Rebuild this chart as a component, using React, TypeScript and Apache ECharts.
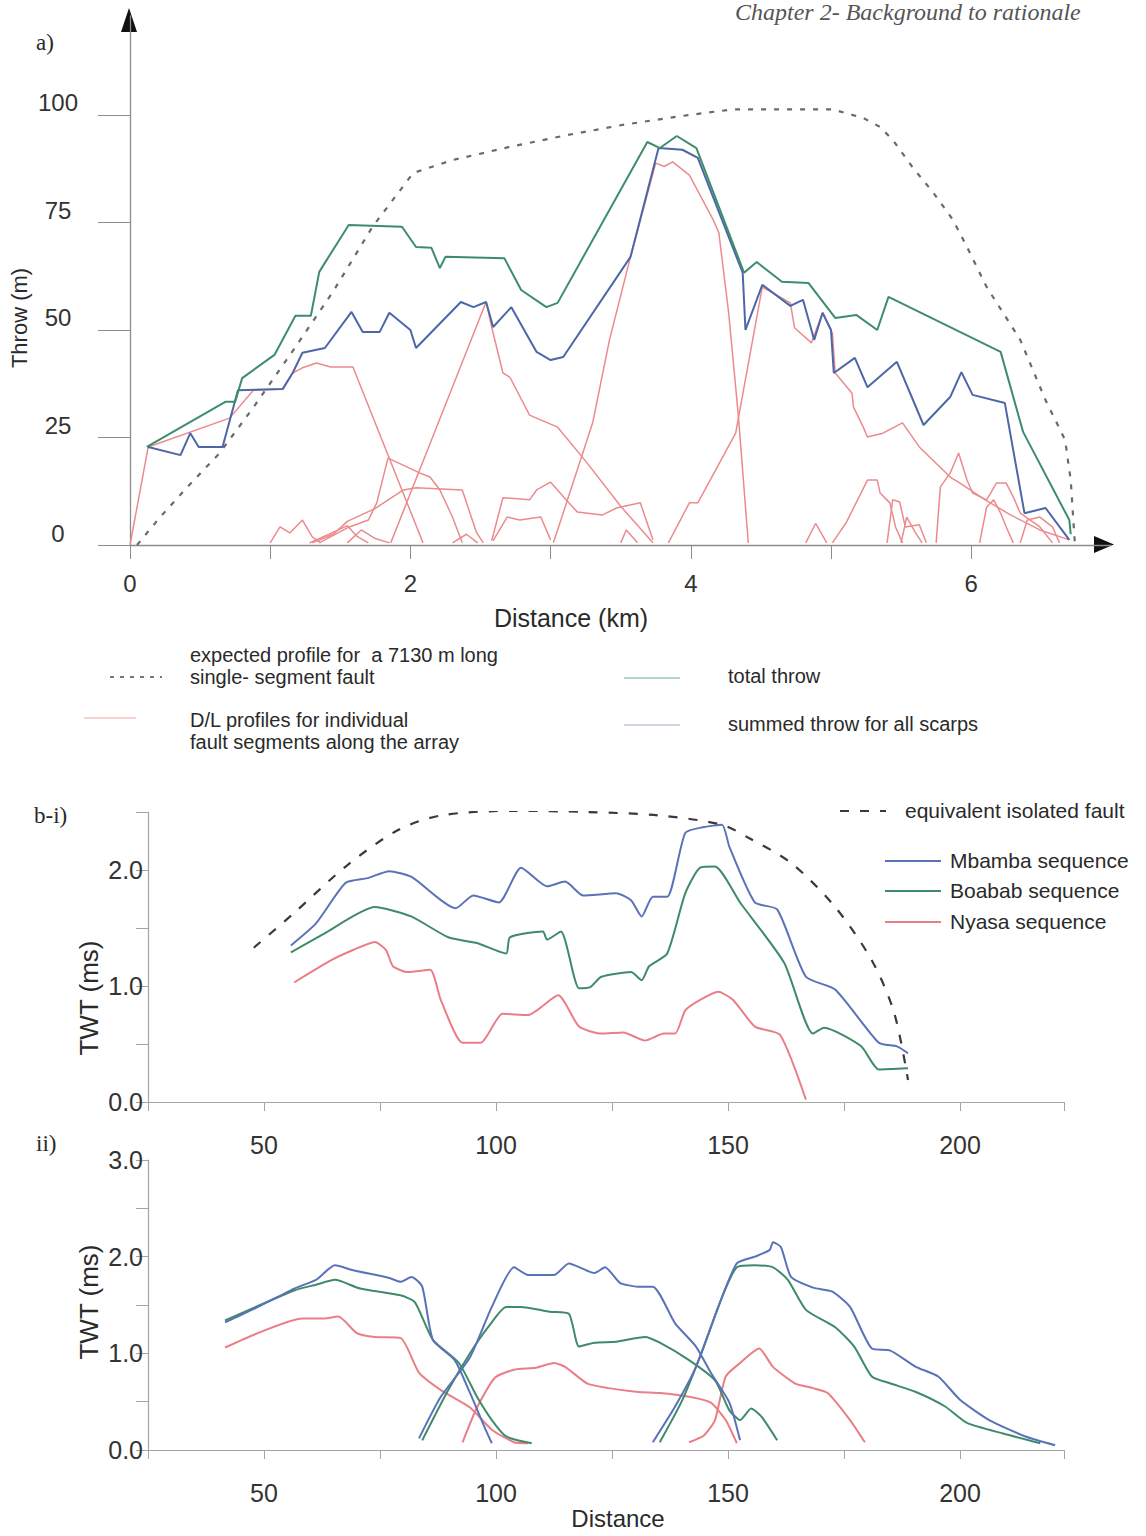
import React, { useEffect, useRef } from "react";
import * as echarts from "echarts";

// ---------- Panel a) : throw (m) vs distance (km) ----------
const aXTicks = [0, 1, 2, 3, 4, 5, 6];
const aXLabels = [0, 2, 4, 6];
const aYTicks = [0, 25, 50, 75, 100];

const expectedProfile = [[0.05,0],[0.21,6.3],[0.41,13.5],[0.64,21.4],[0.88,32],[1.19,46.5],[1.45,59],[1.73,74],[2.02,86.5],[2.3,89.5],[2.7,92.5],[3.1,95.2],[3.5,97.6],[3.9,99.6],[4.3,101.3],[5.01,101.3],[5.23,99.3],[5.35,97.2],[5.44,94.2],[5.58,87.9],[5.73,81.9],[5.87,75.6],[5.97,69.3],[6.11,60],[6.35,47.7],[6.53,33.7],[6.67,24.4],[6.71,15],[6.74,0]];

const totalThrow = [[0.12,22.8],[0.68,33.3],[0.75,33.3],[0.80,38.8],[1.03,44.2],[1.18,53.3],[1.29,53.3],[1.35,63.5],[1.39,65.6],[1.56,74.4],[1.94,74.0],[2.04,69.3],[2.15,69.1],[2.21,64.4],[2.25,67.0],[2.67,66.7],[2.79,59.3],[2.97,55.3],[3.05,56.3],[3.69,93.7],[3.78,92.3],[3.90,95.1],[4.04,92.3],[4.38,63.3],[4.47,65.8],[4.65,61.2],[4.84,60.9],[5.03,52.8],[5.18,53.5],[5.33,50.0],[5.41,57.7],[6.21,44.9],[6.37,26.3],[6.70,5.8],[6.71,2.5]];

const summedThrow = [[0.13,22.8],[0.36,20.9],[0.43,26.0],[0.49,22.8],[0.66,22.8],[0.77,36.0],[1.09,36.3],[1.16,40.0],[1.23,44.7],[1.39,45.8],[1.58,54.2],[1.66,49.5],[1.78,49.5],[1.85,54.0],[2.00,50.0],[2.04,45.8],[2.36,56.5],[2.45,55.3],[2.54,56.5],[2.59,50.7],[2.72,55.3],[2.90,44.9],[3.00,43.0],[3.09,43.7],[3.57,67.0],[3.77,92.3],[3.94,91.9],[4.05,90.0],[4.37,63.3],[4.39,50.0],[4.51,60.5],[4.71,55.6],[4.80,57.0],[4.88,47.7],[4.94,54.0],[5.00,50.0],[5.02,40.0],[5.17,43.5],[5.26,36.7],[5.47,42.6],[5.66,27.9],[5.85,34.4],[5.93,40.2],[6.01,34.9],[6.24,33.0],[6.38,7.4],[6.53,8.6],[6.70,1.2]];

const dl01 = [[0,0],[0.13,22.8],[0.71,29.5],[0.88,36],[1.09,36.3],[1.16,40],[1.23,41.2],[1.33,42.3],[1.43,41.4],[1.59,41.4],[2.09,0.5]];
const dl02 = [[1.86,0.5],[2.54,56.5],[2.59,49.3],[2.66,40],[2.71,39],[2.85,30.2],[3.05,27.4],[3.25,19.5],[3.5,9],[3.73,0.5]];
const dl03 = [[3.02,0.5],[3.30,28.4],[3.42,47.7],[3.57,67],[3.75,88.8],[3.81,88],[3.87,89.1],[3.99,86],[4.16,75.6],[4.20,72.6],[4.27,54],[4.34,29.8],[4.41,0.5]];
const dl04 = [[3.84,0.5],[3.99,9.8],[4.05,9.8],[4.32,26],[4.51,60],[4.71,56.3],[4.74,50.5],[4.86,47],[4.94,54],[5.01,49.3],[5.03,40],[5.15,35.3],[5.16,32.1],[5.23,27.4],[5.26,25.1],[5.37,26],[5.51,28.4],[5.63,22.8],[5.85,15.8],[5.92,14.4],[6.10,10.5],[6.28,7],[6.49,3.5],[6.70,1.2]];
const dl05 = [[1.35,0.5],[1.55,4],[1.70,5.8],[1.76,9.8],[1.84,20.2],[2.07,16.7],[2.14,15.8],[2.21,12.8],[2.30,6.5],[2.37,0.5]];
const dl06 = [[1.30,0.5],[1.45,2.5],[1.55,5.5],[1.75,8.5],[1.95,12.8],[2.04,13.3],[2.37,12.8],[2.47,3],[2.52,0.5]];
const dl07 = [[1.0,0.5],[1.07,4.2],[1.14,2.8],[1.23,5.8],[1.30,1.9],[1.36,0.5]];
const dl08 = [[2.58,1],[2.66,11],[2.85,10.5],[2.90,12.8],[3.0,14.6],[3.13,9.8],[3.19,7.7],[3.37,7],[3.47,8.6],[3.64,9.8],[3.73,1.2]];
const dl09 = [[2.59,1],[2.69,6.5],[2.78,5.8],[2.93,6.5],[3.0,1.2]];
const dl10 = [[3.5,0.5],[3.54,3.5],[3.62,0.5]];
const dl11 = [[4.82,0.5],[4.89,5],[4.97,0.5]];
const dl12 = [[5.01,0.5],[5.11,5.3],[5.26,15.1],[5.33,15.1],[5.35,12.1],[5.42,9.8],[5.46,4.2],[5.51,0.5]];
const dl13 = [[5.40,0.5],[5.44,10.5],[5.49,10],[5.53,4.2],[5.63,4.7],[5.68,0.5]];
const dl14 = [[5.75,0.5],[5.78,13.5],[5.85,16.7],[5.91,21.4],[5.97,15.1],[6.01,12.1],[6.11,10.5],[6.18,14.4],[6.25,14.4],[6.30,11.2],[6.35,7.4],[6.49,4.2],[6.58,0.5]];
const dl15 = [[6.06,0.5],[6.11,8.8],[6.16,10.5],[6.21,7.4],[6.25,4.2],[6.30,0.5]];
const dl16 = [[6.35,0.5],[6.40,5.8],[6.49,6.5],[6.58,4.2],[6.63,0.5]];
const dl17 = [[2.30,0.5],[2.40,2.5],[2.48,0.5]];
const dl18 = [[1.28,0.5],[1.42,2.5],[1.55,4.5],[1.62,2],[1.70,0.5]];
const dl19 = [[1.55,0.5],[1.65,3.5],[1.75,1.5],[1.85,0.5]];
const dl20 = [[5.50,0.5],[5.54,6.5],[5.60,3],[5.65,0.5]];
const dlProfiles = [dl01, dl02, dl03, dl04, dl05, dl06, dl07, dl08, dl09, dl10, dl11, dl12, dl13, dl14, dl15, dl16, dl17, dl18, dl19, dl20];

// ---------- Panel b-i ----------
const bXLabels = [50, 100, 150, 200];
const isolatedFault = [[47.8,1.33],[56.5,1.63],[67.6,2.03],[78.7,2.34],[88.1,2.47],[103.9,2.51],[119.6,2.50],[135.3,2.47],[148.7,2.39],[154.3,2.28],[163.6,2.06],[173.1,1.68],[181.0,1.22],[185.8,0.77],[188.8,0.19]];
const mbambaI = [[55.8,1.35],[61.2,1.54],[67.6,1.89],[72.3,1.93],[77.0,1.99],[81.8,1.94],[91.3,1.67],[95.1,1.78],[100.6,1.72],[105.4,2.02],[111.0,1.86],[114.9,1.90],[118.8,1.78],[125.9,1.80],[129.1,1.74],[131.4,1.60],[133.8,1.77],[136.9,1.77],[140.8,2.32],[144.8,2.37],[148.7,2.39],[150.3,2.20],[155.8,1.72],[160.6,1.66],[166.8,1.08],[173.1,0.97],[182.5,0.51],[186.4,0.48],[188.8,0.42]];
const boababI = [[55.8,1.29],[62.9,1.45],[73.9,1.68],[81.7,1.60],[89.7,1.42],[95.9,1.37],[102.2,1.28],[103.0,1.42],[110.1,1.47],[111.0,1.40],[114.0,1.47],[117.9,0.98],[120.3,0.99],[122.7,1.08],[129.1,1.12],[131.4,1.05],[133.0,1.17],[136.9,1.28],[140.8,1.80],[144.0,2.02],[147.2,2.03],[152.6,1.72],[162.1,1.20],[168.3,0.59],[170.7,0.64],[178.7,0.48],[182.5,0.28],[188.8,0.29]];
const nyasaI = [[56.5,1.03],[64.4,1.22],[69.2,1.31],[73.9,1.38],[76.3,1.31],[77.8,1.17],[81.0,1.12],[85.8,1.14],[88.1,0.88],[92.8,0.51],[96.7,0.51],[101.4,0.76],[106.9,0.75],[113.4,0.92],[117.9,0.65],[122.7,0.59],[127.4,0.60],[132.1,0.53],[136.2,0.59],[138.6,0.59],[140.8,0.79],[144.0,0.88],[147.9,0.95],[151.1,0.88],[155.8,0.65],[161.2,0.58],[166.8,0.02]];

// ---------- Panel b-ii ----------
const mbamba1 = [[41.6,1.32],[48.7,1.48],[56.5,1.67],[61.2,1.76],[65.3,1.91],[69.2,1.86],[77.0,1.78],[79.4,1.74],[81.8,1.79],[84.1,1.69],[86.4,1.14],[91.1,0.93],[94.4,0.59],[97.5,0.24],[99.1,0.07]];
const boabab1 = [[41.6,1.34],[56.5,1.65],[61.2,1.71],[65.3,1.76],[70.7,1.67],[79.4,1.60],[82.5,1.53],[86.4,1.14],[92.0,0.90],[95.9,0.55],[99.1,0.31],[102.2,0.14],[107.7,0.07]];
const nyasa1 = [[41.6,1.06],[48.7,1.21],[58.2,1.36],[62.9,1.36],[66.0,1.38],[70.0,1.21],[73.9,1.17],[79.4,1.16],[83.4,0.80],[88.1,0.62],[94.4,0.44],[99.1,0.21],[103.9,0.08],[106.9,0.07]];
const mbamba2 = [[83.4,0.12],[88.1,0.55],[94.4,0.96],[99.1,1.48],[103.9,1.89],[106.9,1.81],[112.5,1.81],[115.7,1.93],[121.2,1.83],[123.5,1.89],[126.7,1.73],[130.6,1.69],[133.8,1.69],[138.6,1.31],[143.1,1.07],[146.3,0.80],[150.3,0.49],[152.6,0.10]];
const boabab2 = [[84.1,0.10],[89.7,0.62],[94.4,1.00],[98.3,1.27],[102.2,1.48],[105.4,1.48],[111.6,1.43],[115.7,1.41],[117.9,1.07],[121.2,1.11],[125.9,1.12],[132.1,1.17],[135.3,1.11],[141.6,0.93],[147.2,0.72],[150.3,0.41],[152.6,0.31],[155.0,0.43],[157.3,0.34],[160.6,0.10]];
const nyasa2 = [[92.8,0.08],[95.9,0.44],[99.8,0.75],[103.9,0.83],[108.6,0.85],[112.5,0.90],[114.9,0.86],[119.6,0.69],[124.3,0.64],[130.6,0.60],[135.3,0.59],[141.6,0.55],[146.3,0.49],[149.5,0.31],[151.9,0.07]];
const mbamba3 = [[133.8,0.08],[138.6,0.45],[143.1,0.86],[147.9,1.48],[151.9,1.93],[155.8,2.00],[159.0,2.07],[159.7,2.15],[161.4,2.10],[163.6,1.79],[168.3,1.68],[172.4,1.64],[176.3,1.48],[181.0,1.05],[184.9,1.03],[190.5,0.86],[195.3,0.76],[200.0,0.52],[206.3,0.31],[214.1,0.14],[220.5,0.05]];
const boabab3 = [[135.3,0.08],[140.1,0.51],[144.8,1.07],[148.7,1.58],[151.9,1.89],[155.8,1.91],[159.7,1.89],[162.9,1.76],[166.8,1.45],[173.1,1.27],[177.2,1.07],[181.0,0.76],[184.9,0.69],[190.5,0.60],[196.8,0.45],[201.5,0.28],[209.3,0.17],[217.3,0.07]];
const nyasa3 = [[141.6,0.08],[144.8,0.15],[147.2,0.31],[149.5,0.76],[152.6,0.90],[156.7,1.05],[159.7,0.86],[164.4,0.69],[168.3,0.64],[171.5,0.59],[176.3,0.31],[179.5,0.08]];

const FONT = "Liberation Sans, Arial, sans-serif";
const SERIF = "Liberation Serif, Times New Roman, serif";
const RED_A = "#ec8a8d";
const GREEN_A = "#3d8d6c";
const BLUE_A = "#4d66a7";
const BLUE_B = "#5a72b8";
const GREEN_B = "#3f8b69";
const RED_B = "#ea7e86";

function line(data: number[][], color: string, width: number, gi: number, dash?: number[], z = 2, smooth = 0) {
  return {
    type: "line",
    data,
    xAxisIndex: gi,
    yAxisIndex: gi,
    symbol: "none",
    showSymbol: false,
    silent: true,
    smooth,
    z,
    lineStyle: { color, width, type: dash ? dash : "solid" },
  };
}

function txt(text: string, x: number, y: number, size: number, opts: any = {}) {
  return {
    type: "text",
    x,
    y,
    rotation: opts.rotation || 0,
    silent: true,
    style: {
      text,
      fill: opts.fill || "#2a2a2a",
      fontSize: size,
      fontFamily: opts.family || FONT,
      fontStyle: opts.italic ? "italic" : "normal",
      textAlign: opts.align || "left",
      textVerticalAlign: "middle",
      align: opts.align || "left",
      verticalAlign: "middle",
    },
  };
}

function seg(x1: number, y1: number, x2: number, y2: number, stroke: string, w: number, dash?: number[]) {
  return { type: "line", silent: true, shape: { x1, y1, x2, y2 }, style: { stroke, lineWidth: w, lineDash: dash || null } };
}

export default function App() {
  const ref = useRef<HTMLDivElement>(null);
  useEffect(() => {
    if (!ref.current) return;
    const chart = echarts.init(ref.current, null, { renderer: "svg" });
    const axisGray = "#8c8c8c";
    const bGray = "#a5a5a5";
    const bX = (gi: number) => ({
      gridIndex: gi,
      type: "value",
      min: 25,
      max: 222.5,
      interval: 25,
      axisLine: { show: true, onZero: false, lineStyle: { color: bGray, width: 1.2 } },
      axisTick: { show: true, length: 9, lineStyle: { color: bGray } },
      axisLabel: {
        margin: 30,
        fontSize: 25,
        color: "#333",
        fontFamily: FONT,
        formatter: (v: number) => (bXLabels.includes(v) ? String(v) : ""),
      },
      splitLine: { show: false },
    });
    const bY = (gi: number, max: number) => ({
      gridIndex: gi,
      type: "value",
      min: 0,
      max,
      interval: 0.5,
      axisLine: { show: true, onZero: false, lineStyle: { color: bGray, width: 1.2 } },
      axisTick: { show: true, length: 12, lineStyle: { color: bGray } },
      axisLabel: {
        margin: 5,
        fontSize: 25,
        color: "#333",
        fontFamily: FONT,
        formatter: (v: number) => (Math.abs(v - Math.round(v)) < 1e-6 ? v.toFixed(1) : ""),
      },
      splitLine: { show: false },
    });

    const series: any[] = [];
    dlProfiles.forEach((d) => series.push(line(d, RED_A, 1.5, 0, undefined, 2)));
    series.push(line(summedThrow, BLUE_A, 2, 0, undefined, 3));
    series.push(line(totalThrow, GREEN_A, 2, 0, undefined, 4));
    series.push(line(expectedProfile, "#6a6a6a", 2.2, 0, [5, 8], 5));

    series.push(line(nyasaI, RED_B, 2, 1, undefined, 2, 0.2));
    series.push(line(boababI, GREEN_B, 2, 1, undefined, 2, 0.2));
    series.push(line(mbambaI, BLUE_B, 2, 1, undefined, 2, 0.2));
    series.push(line(isolatedFault, "#3a3a3a", 2.2, 1, [9, 11], 5, 0.3));

    [nyasa1, nyasa2, nyasa3].forEach((d) => series.push(line(d, RED_B, 2, 2, undefined, 2, 0.2)));
    [boabab1, boabab2, boabab3].forEach((d) => series.push(line(d, GREEN_B, 2, 2, undefined, 2, 0.2)));
    [mbamba1, mbamba2, mbamba3].forEach((d) => series.push(line(d, BLUE_B, 2, 2, undefined, 2, 0.2)));

    const graphic: any[] = [
      txt("Chapter 2- Background to rationale", 735, 12, 24, { italic: true, family: SERIF, fill: "#555" }),
      txt("a)", 36, 42, 23, { family: SERIF }),
      txt("b-i)", 34, 815, 23, { family: SERIF }),
      txt("ii)", 36, 1143, 23, { family: SERIF }),
      txt("Throw (m)", 19, 318, 22, { align: "center", rotation: Math.PI / 2 }),
      txt("Distance (km)", 571, 618, 25, { align: "center" }),
      { type: "polygon", silent: true, shape: { points: [[1094, 536], [1114, 544.5], [1094, 553]] }, style: { fill: "#111" } },
      { type: "polygon", silent: true, shape: { points: [[121, 32], [129, 8], [137, 32]] }, style: { fill: "#111" } },
      // legend a
      seg(110, 677, 162, 677, "#777", 2, [4, 6]),
      txt("expected profile for  a 7130 m long", 190, 655, 20),
      txt("single- segment fault", 190, 677, 20),
      seg(624, 678, 680, 678, "#9ec7b7", 1.5),
      txt("total throw", 728, 676, 20),
      seg(84, 718, 136, 718, "#f3c3c1", 1.5),
      txt("D/L profiles for individual", 190, 720, 20),
      txt("fault segments along the array", 190, 742, 20),
      seg(624, 725, 680, 725, "#c4c9d9", 1.5),
      txt("summed throw for all scarps", 728, 724, 20),
      // legend b-i
      seg(840, 811, 886, 811, "#3a3a3a", 2.2, [9, 11]),
      txt("equivalent isolated fault", 905, 810, 21),
      seg(885, 861, 941, 861, BLUE_B, 2),
      txt("Mbamba sequence", 950, 860, 21),
      seg(885, 891, 941, 891, GREEN_B, 2),
      txt("Boabab sequence", 950, 890, 21),
      seg(885, 922, 941, 922, RED_B, 2),
      txt("Nyasa sequence", 950, 921, 21),
      txt("TWT (ms)", 89, 998, 26, { align: "center", rotation: Math.PI / 2 }),
      txt("TWT (ms)", 89, 1302, 26, { align: "center", rotation: Math.PI / 2 }),
      txt("Distance", 618, 1518, 24, { align: "center" }),
    ];

    chart.setOption({
      animation: false,
      backgroundColor: "#ffffff",
      textStyle: { fontFamily: FONT },
      grid: [
        { left: 130, top: 16, width: 981.4, height: 529 },
        { left: 148, top: 812, width: 916.4, height: 290 },
        { left: 148, top: 1160, width: 916.4, height: 290 },
      ],
      xAxis: [
        {
          gridIndex: 0,
          type: "value",
          min: 0,
          max: 7,
          interval: 1,
          axisLine: { show: true, onZero: false, lineStyle: { color: axisGray, width: 1.3 } },
          axisTick: { show: true, length: 14, customValues: aXTicks, lineStyle: { color: axisGray } },
          axisLabel: { customValues: aXLabels, margin: 26, fontSize: 24, color: "#333", fontFamily: FONT },
          splitLine: { show: false },
        },
        bX(1),
        bX(2),
      ],
      yAxis: [
        {
          gridIndex: 0,
          type: "value",
          min: 0,
          max: 123,
          interval: 25,
          axisLine: { show: true, onZero: false, lineStyle: { color: axisGray, width: 1.3 } },
          axisTick: { show: true, length: 32, customValues: aYTicks, lineStyle: { color: axisGray } },
          axisLabel: {
            customValues: aYTicks,
            margin: 72,
            align: "center",
            verticalAlign: "bottom",
            fontSize: 24,
            color: "#333",
            fontFamily: FONT,
          },
          splitLine: { show: false },
        },
        bY(1, 2.5),
        bY(2, 3),
      ],
      series,
      graphic,
    });
    return () => chart.dispose();
  }, []);
  return (
    <div
      ref={ref}
      style={{ position: "absolute", left: 0, top: 0, width: 1146, height: 1536, background: "#fff" }}
    />
  );
}
